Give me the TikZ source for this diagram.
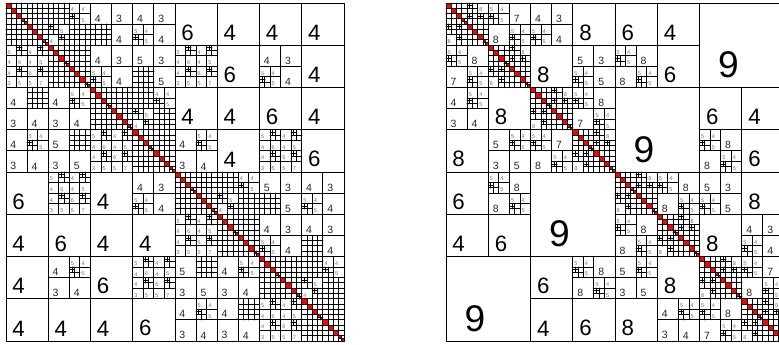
\documentclass[tikz,border=0pt]{standalone}
\usepackage{fontspec}
\setmainfont{Liberation Sans}
\newcounter{lbl}

\tikzset{
	rk8/.style={anchor=south west,inner sep=0pt,xshift=14.5pt,yshift=7pt,font=\fontsize{30}{30}\selectfont},
	rk4/.style={anchor=south west,inner sep=0pt,xshift=4.8pt,yshift=3.6pt,font=\fontsize{18}{18}\selectfont},
	rk2/.style={anchor=south west,inner sep=0pt,xshift=3.2pt,yshift=1.2pt,font=\fontsize{8.5}{8.5}\selectfont,text=black!85},
	rk1/.style={anchor=south west,inner sep=0pt,xshift=0.9pt,yshift=0.9pt,font=\fontsize{4.5}{4.5}\selectfont,text=black!55},
	diag/.style={fill=red},
}

% bloc de rang faible
\newcommand\blkr[4]{%
	\draw (#1,#2) rectangle ++(#3,#3);
	\stepcounter{lbl}\node[rk#3] (r\thelbl) at (#1,#2+#3) {#4};}
% petite case (x = case coupee)
\newcommand\blkc[3]{%
	\draw (#1,#2) rectangle ++(1,1);
	\if x#3\draw (#1+0.5,#2) -- ++(0,1) (#1,#2+0.5) -- ++(1,0) (#1+0.25,#2) -- ++(0,0.5) (#1,#2+0.25) -- ++(0.5,0);%
	\else\stepcounter{lbl}\node[rk1] (r\thelbl) at (#1,#2+1) {#3};\fi}
\newcommand\blkf[6]{\blkc{#1}{#2}{#3}\blkc{#1+1}{#2}{#4}\blkc{#1}{#2+1}{#5}\blkc{#1+1}{#2+1}{#6}}
% maillage plein
\newcommand\blkm[3]{%
	\foreach \k in {1,...,#3}{\draw (#1+\k*0.5,#2) -- ++(0,#3*0.5) (#1,#2+\k*0.5) -- ++(#3*0.5,0);}
	\draw (#1,#2) rectangle ++(#3*0.5,#3*0.5);}
% bloc diagonal
\newcommand\blkd[3]{%
	\foreach \k in {1,...,#3}{%
		\pgfmathtruncatemacro\rkm{mod(\k,4)}%
		\ifnum\rkm=0
			\fill[diag] (#1+\k*0.5-0.5,#2+\k*0.5-0.5) rectangle ++(0.25,0.25) (#1+\k*0.5-0.25,#2+\k*0.5-0.25) rectangle ++(0.25,0.25);
			\draw (#1+\k*0.5-0.25,#2+\k*0.5-0.5) -- ++(0,0.5) (#1+\k*0.5-0.5,#2+\k*0.5-0.25) -- ++(0.5,0);
		\else
			\fill[diag] (#1+\k*0.5-0.5,#2+\k*0.5-0.5) rectangle ++(0.5,0.5);
		\fi}
	\blkm{#1}{#2}{#3}}
\newcommand\blkq[3]{\if f#3\blkf{#1}{#2}{5}{4}{x}{5}\else\if F#3\blkm{#1}{#2}{4}\else\blkr{#1}{#2}{2}{#3}\fi\fi}
\newcommand\blks[6]{\blkq{#1}{#2}{#3}\blkq{#1+2}{#2}{#4}\blkq{#1}{#2+2}{#5}\blkq{#1+2}{#2+2}{#6}}
% blocs fins 4x4
\newcommand\blkg[2]{\blkf{#1}{#2}{5}{x}{4}{6}\blkf{#1+2}{#2}{4}{x}{4}{5}\blkf{#1}{#2+2}{4}{x}{3}{5}\blkf{#1+2}{#2+2}{6}{x}{5}{7}}
\newcommand\blkh[2]{\blkm{#1}{#2}{4}\blkf{#1+2}{#2}{4}{4}{x}{5}\blkf{#1}{#2+2}{x}{5}{4}{x}\blkm{#1+2}{#2+2}{4}}
\newcommand\blkp[2]{\blkd{#1}{#2}{4}\blkd{#1+2}{#2+2}{4}\blkf{#1+2}{#2}{x}{8}{x}{x}\blkf{#1}{#2+2}{x}{x}{8}{x}}

\begin{document}
\begin{tikzpicture}[line cap=round,line join=round,x=0.3cm,y=-0.3cm,line width=0.8pt]
	\useasboundingbox (-0.568,-0.284) rectangle (73.18,32.284);
	%matrice de gauche
	\foreach \d in {0,8,16,24}{\blkd{\d}{\d}{8}\blkd{\d+4}{\d+4}{8}\blkh{\d+4}{\d}\blkg{\d}{\d+4}}
	\blks{8}{0}{4}{3}{F}{4} \blks{12}{0}{4}{3}{f}{4} \blks{8}{4}{4}{3}{f}{4} \blks{12}{4}{5}{3}{F}{5}
	\blks{0}{8}{4}{F}{3}{4} \blks{4}{8}{4}{f}{3}{4} \blks{0}{12}{4}{f}{3}{4} \blks{4}{12}{5}{F}{3}{5}
	\blks{24}{16}{5}{3}{F}{5} \blks{28}{16}{4}{3}{f}{4} \blks{24}{20}{4}{3}{f}{4} \blks{28}{20}{4}{3}{F}{4}
	\blks{16}{24}{5}{F}{3}{5} \blks{20}{24}{4}{f}{3}{4} \blks{16}{28}{4}{f}{3}{4} \blks{20}{28}{4}{F}{3}{4}
	%coin haut droit
	\blkr{16}{0}{4}{6} \blkr{20}{0}{4}{4} \blkr{24}{0}{4}{4} \blkr{28}{0}{4}{4}
	\blkg{16}{4} \blkr{20}{4}{4}{6} \blks{24}{4}{4}{3}{f}{4} \blkr{28}{4}{4}{4}
	\blkr{16}{8}{4}{4} \blkr{20}{8}{4}{4} \blkr{24}{8}{4}{6} \blkr{28}{8}{4}{4}
	\blks{16}{12}{4}{f}{3}{4} \blkr{20}{12}{4}{4} \blkg{24}{12} \blkr{28}{12}{4}{6}
	%coin bas gauche
	\blkr{0}{16}{4}{6} \blkg{4}{16} \blkr{8}{16}{4}{4} \blks{12}{16}{4}{3}{f}{4}
	\blkr{0}{20}{4}{4} \blkr{4}{20}{4}{6} \blkr{8}{20}{4}{4} \blkr{12}{20}{4}{4}
	\blkr{0}{24}{4}{4} \blks{4}{24}{4}{f}{3}{4} \blkr{8}{24}{4}{6} \blkg{12}{24}
	\blkr{0}{28}{4}{4} \blkr{4}{28}{4}{4} \blkr{8}{28}{4}{4} \blkr{12}{28}{4}{6}
	\draw (0,0) rectangle (32,32);
	%matrice de droite
	\begin{scope}[shift={(41.66,0)}]
		\foreach \d in {0,8,16,24}{\blkp{\d}{\d}\blkp{\d+4}{\d+4}}
		\blks{4}{0}{f}{7}{8}{f} \blks{0}{4}{f}{8}{7}{f}
		\blks{12}{8}{f}{8}{7}{f} \blks{8}{12}{f}{7}{8}{f}
		\blks{20}{16}{f}{8}{8}{f} \blks{16}{20}{f}{8}{8}{f}
		\blks{28}{24}{f}{7}{8}{f} \blks{24}{28}{f}{8}{7}{f}
		\blks{8}{0}{4}{3}{f}{4} \blkr{12}{0}{4}{8} \blkr{8}{4}{4}{8} \blks{12}{4}{5}{3}{f}{5}
		\blks{0}{8}{4}{f}{3}{4} \blkr{4}{8}{4}{8} \blkr{0}{12}{4}{8} \blks{4}{12}{5}{f}{3}{5}
		\blks{24}{16}{5}{3}{f}{5} \blkr{28}{16}{4}{8} \blkr{24}{20}{4}{8} \blks{28}{20}{4}{3}{f}{4}
		\blks{16}{24}{5}{f}{3}{5} \blkr{20}{24}{4}{8} \blkr{16}{28}{4}{8} \blks{20}{28}{4}{f}{3}{4}
		%blocs admissibles
		\blkr{16}{0}{4}{6} \blkr{20}{0}{4}{4} \blkr{24}{0}{8}{9}
		\blks{16}{4}{f}{8}{8}{f} \blkr{20}{4}{4}{6}
		\blkr{16}{8}{8}{9}
		\blkr{24}{8}{4}{6} \blkr{28}{8}{4}{4}
		\blks{24}{12}{f}{8}{8}{f} \blkr{28}{12}{4}{6}
		\blkr{0}{16}{4}{6} \blks{4}{16}{f}{8}{8}{f} \blkr{8}{16}{8}{9}
		\blkr{0}{20}{4}{4} \blkr{4}{20}{4}{6}
		\blkr{0}{24}{8}{9}
		\blkr{8}{24}{4}{6} \blks{12}{24}{f}{8}{8}{f}
		\blkr{8}{28}{4}{4} \blkr{12}{28}{4}{6}
		\draw (0,0) rectangle (32,32);
	\end{scope}
\end{tikzpicture}
\end{document}
